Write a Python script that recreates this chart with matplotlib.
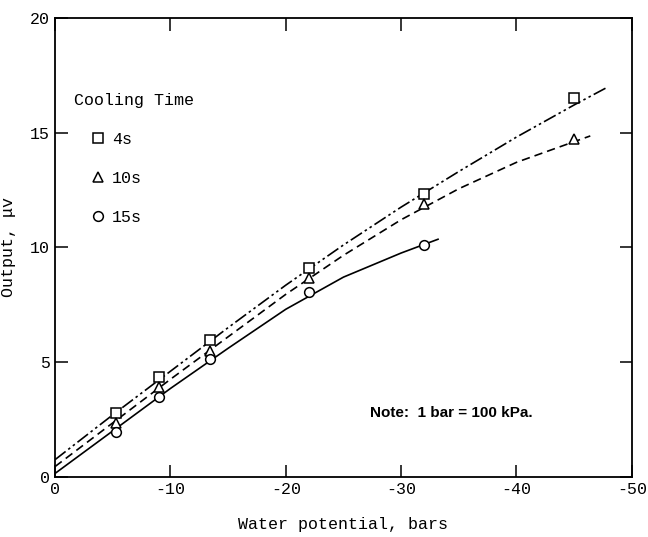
import numpy as np
import matplotlib
matplotlib.use("Agg")
import matplotlib.pyplot as plt

plt.rcParams['font.family'] = ['Liberation Mono', 'DejaVu Sans Mono']

# measured points (water potential in bars, output in microvolts)
psi_4s = [-5.3, -9.0, -13.4, -22.0, -32.0, -45.0]
out_4s = [2.8, 4.35, 5.95, 9.1, 12.3, 16.5]
psi_10s = [-5.3, -9.0, -13.4, -22.0, -32.0, -45.0]
out_10s = [2.35, 3.9, 5.5, 8.65, 11.9, 14.7]
psi_15s = [-5.3, -9.0, -13.4, -22.0, -32.0]
out_15s = [1.95, 3.5, 5.15, 8.05, 10.1]

# fitted curves
fit_x_4s = [0, -5, -10, -15, -20, -25, -30, -35, -40, -45, -47.8]
fit_y_4s = [0.75, 2.7, 4.6, 6.5, 8.35, 10.1, 11.75, 13.3, 14.8, 16.2, 16.95]
fit_x_10s = [0, -5, -10, -15, -20, -25, -30, -35, -40, -45, -46.4]
fit_y_10s = [0.45, 2.35, 4.25, 6.1, 7.95, 9.65, 11.2, 12.55, 13.7, 14.6, 14.85]
fit_x_15s = [0, -5, -10, -15, -20, -25, -30, -33.2]
fit_y_15s = [0.15, 2.0, 3.85, 5.6, 7.3, 8.7, 9.75, 10.35]

xticks = [0, -10, -20, -30, -40, -50]
yticks = [0, 5, 10, 15, 20]

fig = plt.figure(figsize=(6.48, 5.37), dpi=100)
ax = fig.add_axes([0.085, 0.112, 0.89, 0.855])

ax.plot(fit_x_4s, fit_y_4s, color='black', lw=1.2, dashes=(8, 2, 1.5, 2, 1.5, 2))
ax.plot(fit_x_10s, fit_y_10s, color='black', lw=1.2, dashes=(5, 3))
ax.plot(fit_x_15s, fit_y_15s, color='black', lw=1.2)

mk = dict(ls='none', mfc='white', mec='black', mew=1.1, zorder=3)
ax.plot(psi_4s, out_4s, marker='s', ms=7, label='4s', **mk)
ax.plot(psi_10s, out_10s, marker='^', ms=7, label='10s', **mk)
ax.plot(psi_15s, out_15s, marker='o', ms=7, label='15s', **mk)

ax.set_xlim(0, -50)
ax.set_ylim(0, 20)
ax.set_xticks(xticks)
ax.set_yticks(yticks)
ax.set_xticklabels([str(t) if t == 0 else '-%d' % -t for t in xticks])
ax.tick_params(direction='in', length=9, width=1.1, labelsize=12,
               top=True, right=True, pad=4)
for s in ax.spines.values():
    s.set_linewidth(1.3)

ax.set_xlabel('Water potential, bars', fontsize=12, labelpad=14)
ax.set_ylabel('Output, \u03bcv', fontsize=12, labelpad=10)

ax.text(0.033, 0.82, 'Cooling Time', transform=ax.transAxes,
        fontsize=12, va='center', ha='left')
ax.legend(loc='upper left', bbox_to_anchor=(0.063, 0.752), frameon=False,
          borderpad=0, borderaxespad=0, handlelength=0.8, handletextpad=0.45,
          labelspacing=1.45, fontsize=12)

ax.text(-27.3, 2.8, 'Note:  1 bar = 100 kPa.', fontsize=11, fontweight='bold',
        family='Liberation Sans', va='center', ha='left')

fig.savefig('out.png', dpi=100)
